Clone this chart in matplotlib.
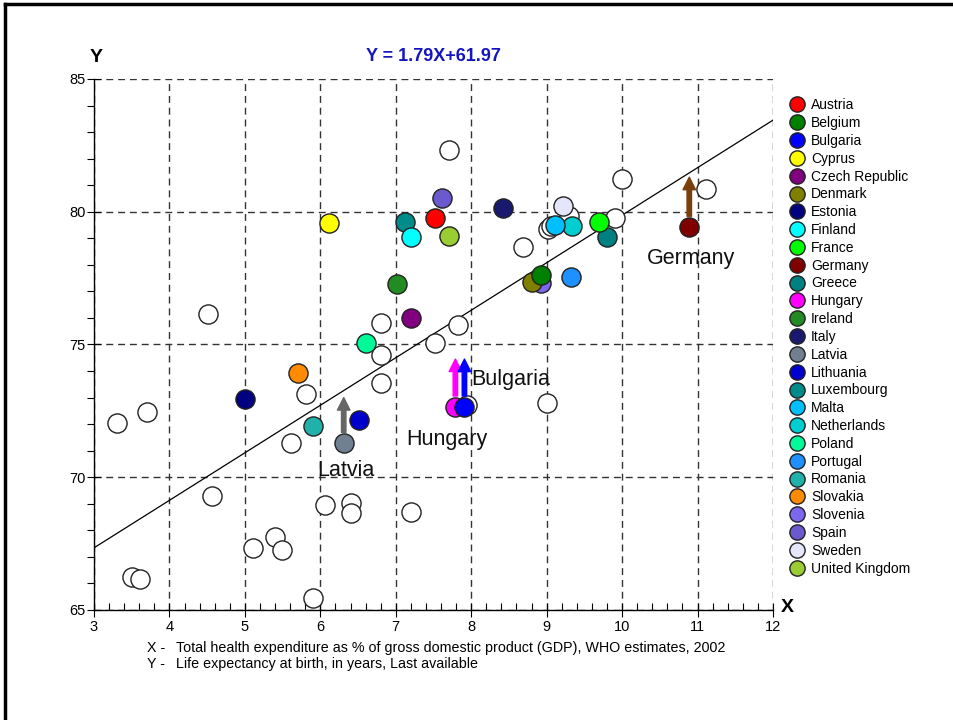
import matplotlib
matplotlib.use('Agg')
import matplotlib.pyplot as plt
from matplotlib.lines import Line2D
from matplotlib.ticker import MultipleLocator
import numpy as np

plt.rcParams['font.family'] = ['Liberation Sans', 'DejaVu Sans']

# countries (legend order), health expenditure % GDP, life expectancy
countries = ['Austria', 'Belgium', 'Bulgaria', 'Cyprus', 'Czech Republic', 'Denmark',
             'Estonia', 'Finland', 'France', 'Germany', 'Greece', 'Hungary', 'Ireland',
             'Italy', 'Latvia', 'Lithuania', 'Luxembourg', 'Malta', 'Netherlands',
             'Poland', 'Portugal', 'Romania', 'Slovakia', 'Slovenia', 'Spain',
             'Sweden', 'United Kingdom']
health_exp = [7.52, 8.93, 7.91, 6.11, 7.2, 8.81, 5.0, 7.2, 9.7, 10.89, 9.8, 7.79, 7.01,
              8.42, 6.31, 6.51, 7.12, 9.11, 9.33, 6.61, 9.32, 5.9, 5.7, 8.93, 7.61,
              9.21, 7.7]
life_exp = [79.76, 77.6, 72.66, 79.58, 76.0, 77.37, 72.95, 79.05, 79.62, 79.43, 79.06,
            72.66, 77.28, 80.14, 71.29, 72.16, 79.6, 79.5, 79.46, 75.07, 77.53, 71.93,
            73.92, 77.3, 80.51, 80.2, 79.1]
colors = ['#FF0000', '#008000', '#0000FF', '#FFFF00', '#800080', '#808000', '#000080',
          '#00FFFF', '#00FF00', '#800000', '#008080', '#FF00FF', '#228B22', '#191970',
          '#708090', '#0000CD', '#008B8B', '#00BFFF', '#00CED1', '#00FA9A', '#1E90FF',
          '#20B2AA', '#FF8C00', '#7B68EE', '#6A5ACD', '#E6E6FA', '#9ACD32']

# other (unnamed) countries, drawn as open circles
other_x = [3.3, 3.7, 4.51, 4.57, 3.5, 3.61, 5.11, 5.4, 5.49, 5.61, 5.81, 5.9, 6.06, 6.41,
           6.41, 7.2, 9.0, 6.81, 6.81, 6.81, 7.52, 7.82, 7.7, 8.69, 9.02, 9.06, 9.3,
           10.0, 9.91, 11.11, 7.94]
other_y = [72.05, 72.45, 76.15, 69.3, 66.25, 66.15, 67.35, 67.74, 67.25, 71.3, 73.14,
           65.44, 68.95, 69.02, 68.64, 68.7, 72.79, 75.8, 74.6, 73.56, 75.07, 75.73,
           82.33, 78.68, 79.35, 79.45, 79.85, 81.23, 79.75, 80.85, 72.72]

# regression
slope, intercept = 1.79, 61.97

# highlighted countries: arrow end value and label
arrow_countries = ['Germany', 'Latvia', 'Hungary', 'Bulgaria']
arrow_to = [81.3, 73.0, 74.45, 74.45]
arrow_colors = ['#7A3E0A', '#666666', '#FF00FF', '#0000FF']

fig = plt.figure(figsize=(9.54, 7.2), dpi=100)
ax = fig.add_axes([0.0985, 0.1528, 0.7118, 0.7375])
ax.set_xlim(3, 12)
ax.set_ylim(65, 85)

ax.xaxis.set_major_locator(MultipleLocator(1))
ax.xaxis.set_minor_locator(MultipleLocator(0.2))
ax.yaxis.set_major_locator(MultipleLocator(5))
ax.yaxis.set_minor_locator(MultipleLocator(1))
ax.grid(True, which='major', color='#333333', linestyle=(0, (5, 3.5)), linewidth=1)
ax.set_axisbelow(True)
for s in ['top', 'right']:
    ax.spines[s].set_visible(False)
for s in ['left', 'bottom']:
    ax.spines[s].set_linewidth(1)
ax.tick_params(axis='x', which='major', direction='inout', length=10, width=0.8,
               labelsize=10.5, pad=2)
ax.tick_params(axis='x', which='minor', direction='in', length=5, width=0.8)
ax.tick_params(axis='y', which='major', direction='inout', length=10, width=0.8,
               labelsize=10.5, pad=1)
ax.tick_params(axis='y', which='minor', direction='out', length=5, width=0.8)

# regression line
xs = np.array([3, 12])
ax.plot(xs, slope * xs + intercept, color='black', linewidth=0.9, zorder=2)

# open circles
ax.scatter(other_x, other_y, s=190, facecolor='white', edgecolor='#222222',
           linewidth=1, zorder=3)

# coloured countries, drawn in reverse alphabetical order
for i in range(len(countries) - 1, -1, -1):
    ax.scatter(health_exp[i], life_exp[i], s=190, color=colors[i],
               edgecolor='#222222', linewidth=1, zorder=4)

# arrows
for name, yto, c in zip(arrow_countries, arrow_to, arrow_colors):
    i = countries.index(name)
    ax.annotate('', xy=(health_exp[i], yto), xytext=(health_exp[i], life_exp[i] + 0.4),
                arrowprops=dict(facecolor=c, edgecolor=c, width=3.2, headwidth=9,
                                headlength=9, shrink=0), zorder=5)

# labels
label_offsets = {'Germany': (1.5, -23, 'center'), 'Latvia': (1.5, -19.5, 'center'),
                 'Hungary': (-6, -24, 'center'), 'Bulgaria': (5, 19.5, 'left')}
for name, (dx, dy, ha) in label_offsets.items():
    i = countries.index(name)
    ax.annotate(name, (health_exp[i], life_exp[i]), xytext=(dx, dy),
                textcoords='offset points', ha=ha, va='center', fontsize=15.5,
                color='#111111', zorder=6)

ax.set_title('Y = %.2fX+%.2f' % (slope, intercept), fontsize=13, fontweight='bold',
             color='#1515C0', pad=13)
fig.text(96 / 954, 1 - 58 / 720, 'Y', fontsize=14, fontweight='bold',
         ha='center', va='center')
fig.text(787 / 954, 1 - 608 / 720, 'X', fontsize=14, fontweight='bold',
         ha='center', va='center')

fig.text(147 / 954, 1 - 648 / 720, 'X -', fontsize=10.3, va='center')
fig.text(176 / 954, 1 - 648 / 720,
         'Total health expenditure as % of gross domestic product (GDP), WHO estimates, 2002',
         fontsize=10.3, va='center')
fig.text(147 / 954, 1 - 664 / 720, 'Y -', fontsize=10.3, va='center')
fig.text(176 / 954, 1 - 664 / 720, 'Life expectancy at birth, in years, Last available',
         fontsize=10.3, va='center')

# legend
handles = [Line2D([], [], marker='o', linestyle='none', markersize=11,
                  markerfacecolor=c, markeredgecolor='#222222', markeredgewidth=1)
           for c in colors]
fig.legend(handles, countries, loc='upper left', bbox_to_anchor=(0.827, 0.8635),
           frameon=False, fontsize=10, labelspacing=0.275, handlelength=1.2,
           handletextpad=0.4, borderpad=0, borderaxespad=0)

# outer frame
fig.add_artist(Line2D([0.005, 0.005], [0, 0.995], transform=fig.transFigure,
                      color='black', linewidth=2.5))
fig.add_artist(Line2D([0.005, 1], [0.995, 0.995], transform=fig.transFigure,
                      color='black', linewidth=2.5))

fig.savefig('out.png', dpi=100)
